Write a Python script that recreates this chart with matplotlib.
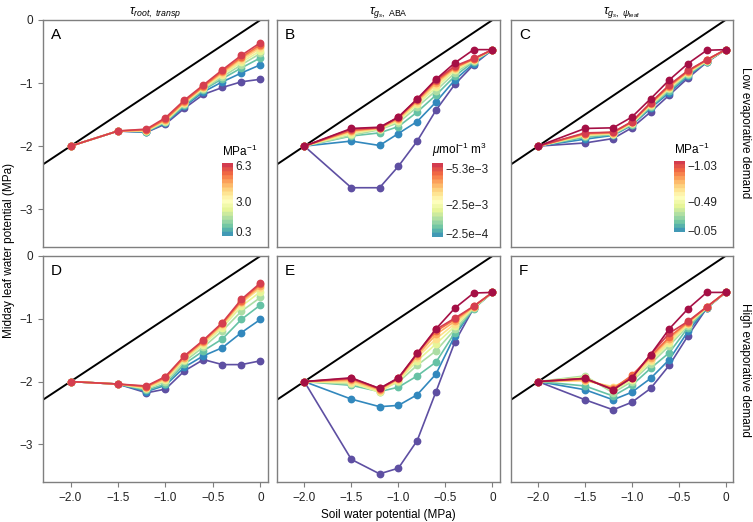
import numpy as np
import matplotlib.pyplot as plt
from matplotlib.colors import ListedColormap

plt.rcParams["font.family"] = ["Liberation Sans", "DejaVu Sans"]
plt.rcParams["mathtext.fontset"] = "custom"
plt.rcParams["mathtext.rm"] = "Liberation Sans"
plt.rcParams["mathtext.it"] = "Liberation Sans:italic"
plt.rcParams["axes.unicode_minus"] = True

# soil water potential (MPa)
soil_psi = [-2.0, -1.5, -1.2, -1.0, -0.8, -0.6, -0.4, -0.2, 0.0]

# midday leaf water potential, one row per sensitivity level (low -> high)
panel_a = [
    [-2.0, -1.76, -1.78, -1.65, -1.40, -1.18, -1.07, -0.98, -0.94],
    [-2.0, -1.76, -1.78, -1.63, -1.37, -1.14, -0.98, -0.84, -0.71],
    [-2.0, -1.76, -1.77, -1.62, -1.35, -1.11, -0.93, -0.76, -0.60],
    [-2.0, -1.76, -1.76, -1.61, -1.33, -1.09, -0.90, -0.71, -0.53],
    [-2.0, -1.76, -1.76, -1.60, -1.32, -1.08, -0.87, -0.67, -0.49],
    [-2.0, -1.76, -1.75, -1.59, -1.31, -1.07, -0.85, -0.64, -0.45],
    [-2.0, -1.76, -1.75, -1.58, -1.30, -1.06, -0.83, -0.61, -0.42],
    [-2.0, -1.76, -1.74, -1.57, -1.29, -1.05, -0.81, -0.59, -0.39],
    [-2.0, -1.76, -1.73, -1.55, -1.27, -1.03, -0.79, -0.56, -0.36],
]
panel_b = [
    [-2.0, -2.66, -2.66, -2.32, -1.92, -1.43, -1.02, -0.71, -0.47],
    [-2.0, -1.92, -1.99, -1.80, -1.61, -1.30, -0.95, -0.69, -0.47],
    [-2.0, -1.84, -1.79, -1.69, -1.46, -1.19, -0.89, -0.66, -0.47],
    [-2.0, -1.83, -1.74, -1.63, -1.38, -1.12, -0.84, -0.65, -0.47],
    [-2.0, -1.80, -1.73, -1.60, -1.34, -1.07, -0.80, -0.64, -0.47],
    [-2.0, -1.78, -1.72, -1.58, -1.31, -1.03, -0.78, -0.63, -0.47],
    [-2.0, -1.76, -1.72, -1.57, -1.29, -1.00, -0.76, -0.62, -0.47],
    [-2.0, -1.75, -1.71, -1.55, -1.27, -0.97, -0.75, -0.62, -0.47],
    [-2.0, -1.73, -1.71, -1.54, -1.26, -0.95, -0.73, -0.61, -0.47],
    [-2.0, -1.72, -1.70, -1.54, -1.25, -0.94, -0.68, -0.47, -0.47],
]
panel_c = [
    [-2.0, -1.95, -1.88, -1.71, -1.46, -1.19, -0.92, -0.67, -0.47],
    [-2.0, -1.89, -1.83, -1.67, -1.40, -1.15, -0.89, -0.66, -0.47],
    [-2.0, -1.86, -1.82, -1.66, -1.38, -1.12, -0.87, -0.66, -0.47],
    [-2.0, -1.84, -1.81, -1.65, -1.36, -1.10, -0.85, -0.65, -0.47],
    [-2.0, -1.83, -1.80, -1.64, -1.35, -1.08, -0.84, -0.65, -0.47],
    [-2.0, -1.82, -1.80, -1.63, -1.34, -1.07, -0.83, -0.64, -0.47],
    [-2.0, -1.81, -1.79, -1.62, -1.33, -1.06, -0.82, -0.64, -0.47],
    [-2.0, -1.80, -1.78, -1.62, -1.32, -1.04, -0.81, -0.63, -0.47],
    [-2.0, -1.79, -1.78, -1.61, -1.31, -1.03, -0.80, -0.63, -0.47],
    [-2.0, -1.72, -1.71, -1.54, -1.25, -0.95, -0.69, -0.48, -0.47],
]
panel_d = [
    [-2.0, -2.04, -2.18, -2.12, -1.83, -1.65, -1.73, -1.73, -1.67],
    [-2.0, -2.04, -2.16, -2.06, -1.77, -1.59, -1.46, -1.22, -1.01],
    [-2.0, -2.04, -2.14, -2.04, -1.72, -1.51, -1.32, -1.01, -0.78],
    [-2.0, -2.04, -2.12, -2.00, -1.68, -1.45, -1.19, -0.88, -0.66],
    [-2.0, -2.04, -2.11, -1.98, -1.65, -1.41, -1.14, -0.80, -0.57],
    [-2.0, -2.04, -2.10, -1.96, -1.63, -1.38, -1.11, -0.75, -0.51],
    [-2.0, -2.04, -2.09, -1.95, -1.62, -1.37, -1.09, -0.73, -0.48],
    [-2.0, -2.04, -2.08, -1.93, -1.60, -1.35, -1.07, -0.71, -0.45],
    [-2.0, -2.04, -2.07, -1.92, -1.59, -1.34, -1.06, -0.69, -0.43],
]
panel_e = [
    [-2.0, -3.24, -3.47, -3.38, -2.94, -2.16, -1.37, -0.83, -0.58],
    [-2.0, -2.28, -2.40, -2.38, -2.21, -1.88, -1.27, -0.83, -0.58],
    [-2.0, -2.06, -2.16, -2.09, -1.91, -1.69, -1.22, -0.84, -0.58],
    [-2.0, -2.04, -2.12, -2.01, -1.74, -1.51, -1.17, -0.83, -0.58],
    [-2.0, -2.02, -2.17, -1.99, -1.67, -1.40, -1.12, -0.82, -0.58],
    [-2.0, -2.00, -2.15, -1.98, -1.62, -1.32, -1.08, -0.81, -0.58],
    [-2.0, -1.98, -2.13, -1.96, -1.59, -1.25, -1.04, -0.81, -0.58],
    [-2.0, -1.96, -2.12, -1.95, -1.56, -1.20, -1.01, -0.80, -0.58],
    [-2.0, -1.95, -2.11, -1.95, -1.55, -1.17, -0.99, -0.80, -0.58],
    [-2.0, -1.94, -2.11, -1.94, -1.55, -1.16, -0.83, -0.59, -0.58],
]
panel_f = [
    [-2.0, -2.29, -2.45, -2.33, -2.11, -1.74, -1.27, -0.83, -0.58],
    [-2.0, -2.13, -2.29, -2.17, -1.95, -1.65, -1.20, -0.83, -0.58],
    [-2.0, -2.07, -2.23, -2.06, -1.79, -1.54, -1.14, -0.83, -0.58],
    [-2.0, -1.91, -2.18, -2.00, -1.72, -1.43, -1.11, -0.82, -0.58],
    [-2.0, -1.93, -2.14, -1.98, -1.68, -1.39, -1.09, -0.82, -0.58],
    [-2.0, -1.99, -2.08, -1.96, -1.65, -1.36, -1.08, -0.82, -0.58],
    [-2.0, -1.97, -2.10, -1.92, -1.62, -1.32, -1.06, -0.81, -0.58],
    [-2.0, -1.96, -2.12, -1.90, -1.60, -1.29, -1.05, -0.81, -0.58],
    [-2.0, -1.95, -2.13, -1.94, -1.57, -1.23, -1.04, -0.81, -0.58],
    [-2.0, -1.95, -2.13, -1.94, -1.57, -1.16, -0.84, -0.58, -0.58],
]

panel_letters = ["A", "B", "C", "D", "E", "F"]
col_titles = [r"$\tau_{root,\ transp}$",
              r"$\tau_{g_s,\ \mathrm{ABA}}$",
              r"$\tau_{g_s,\ \psi_\mathrm{leaf}}$"]
row_titles = ["Low evaporative demand", "High evaporative demand"]

cbar_units = [r"MPa$^{-1}$", r"$\mu$mol$^{-1}$ m$^{3}$", r"MPa$^{-1}$"]
cbar_ticks = [[0.3, 3.0, 6.3], [-2.5e-4, -2.5e-3, -5.3e-3], [-0.05, -0.49, -1.03]]
cbar_ticklabels = [["0.3", "3.0", "6.3"],
                   ["\u22122.5e\u22124", "\u22122.5e\u22123", "\u22125.3e\u22123"],
                   ["\u22120.05", "\u22120.49", "\u22121.03"]]
cbar_ends = [(-0.15, 6.55), (0.0, -5.7e-3), (-0.03, -1.09)]

xticks = [-2.0, -1.5, -1.0, -0.5, 0.0]
xticklabels = ["\u22122.0", "\u22121.5", "\u22121.0", "\u22120.5", "0"]
yticks = [0, -1, -2, -3]
yticklabels = ["0", "\u22121", "\u22122", "\u22123"]

line_colors = ["#5e4fa2", "#3288bd", "#66c2a5", "#abdda4", "#e6f598",
               "#fee08b", "#fdae61", "#f46d43", "#d53e4f", "#a50f45"]

spec = plt.get_cmap("Spectral_r")
bar_cmap = ListedColormap(spec(np.linspace(0.13, 0.9, 18)))

fig = plt.figure(figsize=(7.53, 5.22), dpi=100)
W, H = 753.0, 522.0
col_x = [43, 277, 511]
col_w = [225, 223, 222]
row_y = [20, 256]
row_h = [227, 226]
gray = "#7f7f7f"

panels = [panel_a, panel_b, panel_c, panel_d, panel_e, panel_f]
axes = []
for i, data in enumerate(panels):
    r, c = divmod(i, 3)
    ax = fig.add_axes([col_x[c] / W, 1 - (row_y[r] + row_h[r]) / H,
                       col_w[c] / W, row_h[r] / H])
    axes.append(ax)
    ax.plot([-2.6, 0.4], [-2.6, 0.4], color="black", lw=1.4, zorder=1)
    for k, yv in enumerate(data):
        col = line_colors[k]
        ax.plot(soil_psi, yv, "-o", color=col, lw=1.2, ms=4.6, zorder=2 + k)
    ax.set_xlim(-2.29, 0.08)
    ax.set_ylim(-3.6, 0)
    for s in ax.spines.values():
        s.set_color(gray)
        s.set_linewidth(1.0)
    ax.tick_params(direction="out", length=3.5, width=0.8, color=gray,
                   labelsize=8.5, labelcolor="#222222")
    ax.set_xticks(xticks)
    ax.set_yticks(yticks)
    if r == 1:
        ax.set_xticklabels(xticklabels)
    else:
        ax.tick_params(axis="x", bottom=False, labelbottom=False)
    if c == 0:
        ax.set_yticklabels(yticklabels)
    else:
        ax.tick_params(axis="y", left=False, labelleft=False)
    ax.text(0.035, 0.965, panel_letters[i], transform=ax.transAxes,
            ha="left", va="top", fontsize=11)
    if r == 0:
        ax.set_title(col_titles[c], fontsize=9, pad=3)

axes[4].set_xlabel("Soil water potential (MPa)", fontsize=8.5, labelpad=4)
fig.text(0.012, 0.52, "Midday leaf water potential (MPa)", rotation=90,
         ha="center", va="center", fontsize=8.5)
fig.text(745 / W, 1 - 133 / H, row_titles[0], rotation=270,
         ha="center", va="center", fontsize=8.5)
fig.text(745 / W, 1 - 370 / H, row_titles[1], rotation=270,
         ha="center", va="center", fontsize=8.5)

# colour bars in the upper row
cbar_box = [(222, 163, 11, 73), (432, 163, 11, 74), (674, 161, 11, 71)]
grad = np.linspace(0, 1, 256).reshape(-1, 1)
for c in range(3):
    bx, by, bw, bh = cbar_box[c]
    cax = fig.add_axes([bx / W, 1 - (by + bh) / H, bw / W, bh / H])
    cax.imshow(grad, aspect="auto", cmap=bar_cmap, origin="lower",
               extent=[0, 1, 0, 1])
    lo, hi = cbar_ends[c]
    pos = [(v - lo) / (hi - lo) for v in cbar_ticks[c]]
    cax.set_xticks([])
    cax.yaxis.tick_right()
    cax.set_yticks(pos)
    cax.set_yticklabels(cbar_ticklabels[c])
    cax.tick_params(axis="y", length=0, pad=2, labelsize=8.5,
                    labelcolor="#222222")
    cax.set_ylim(0, 1)
    for s in cax.spines.values():
        s.set_visible(False)
    cax.text(0.0, 1.06, cbar_units[c], transform=cax.transAxes,
             ha="left", va="bottom", fontsize=8.5)

fig.savefig("out.png", dpi=100)
